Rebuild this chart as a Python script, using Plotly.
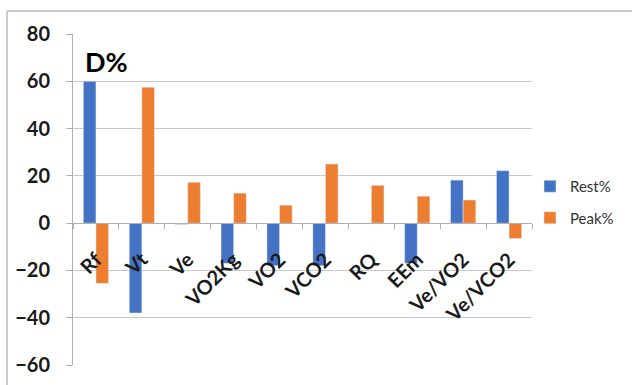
import plotly.graph_objects as go

categories = ["Rf", "Vt", "Ve", "VO2Kg", "VO2", "VCO2", "RQ", "EEm", "Ve/VO2", "Ve/VCO2"]
rest_pct = [60, -38, -0.5, -17, -18, -18, 0, -17, 18.2, 22.2]
peak_pct = [-25.5, 57.5, 17.3, 12.7, 7.6, 25, 16, 11.4, 9.8, -6.5]
y_ticks = [-60, -40, -20, 0, 20, 40, 60, 80]

W, H = 632, 385
L, R, T, B = 73, 632 - 532, 34, 385 - 365
pw, ph = W - L - R, H - T - B
ymin, ymax = -60, 80
zero_pos = (0 - ymin) / (ymax - ymin)

font_fam = "Lato, 'Open Sans', sans-serif"
txt_col = "#1a1a1a"

fig = go.Figure()
fig.add_trace(go.Bar(x=categories, y=rest_pct, name="Rest%", marker_color="#4472C4", legendgroup="a"))
fig.add_trace(go.Bar(x=categories, y=peak_pct, name="Peak%", marker_color="#ED7D31", legendgroup="b"))

fig.update_layout(
    width=W, height=H,
    margin=dict(l=L, r=R, t=T, b=B, autoexpand=False),
    paper_bgcolor="white", plot_bgcolor="white",
    barmode="group", bargap=0.45, bargroupgap=0,
    showlegend=True,
    legend=dict(x=(530 - L) / pw, y=(365 - 170) / ph, xanchor="left", yanchor="top",
                font=dict(family=font_fam, size=15, color="#333333"),
                itemwidth=30, tracegroupgap=9, bgcolor="rgba(0,0,0,0)"),
    font=dict(family=font_fam, color=txt_col),
)

fig.update_yaxes(range=[ymin, ymax], tickvals=y_ticks, showgrid=True, gridcolor="#c8c8c8",
                 gridwidth=1, zeroline=False, showline=True, linecolor="#b0b0b0", linewidth=1,
                 ticks="outside", ticklen=6, tickcolor="#b0b0b0", ticklabelstandoff=12,
                 tickfont=dict(family=font_fam, size=20, color=txt_col, weight="bold"))

fig.update_xaxes(anchor="free", position=zero_pos, showline=True, linecolor="#b0b0b0", linewidth=1,
                 ticks="outside", tickson="boundaries", ticklen=5, tickcolor="#b0b0b0",
                 tickangle=-45, showgrid=False, ticklabelstandoff=16,
                 tickfont=dict(family=font_fam, size=20, color=txt_col, weight="bold"))

fig.add_annotation(text="D%", xref="paper", yref="paper",
                   x=(83 - L) / pw, y=(365 - 61) / ph, xanchor="left", yanchor="middle",
                   showarrow=False, font=dict(family=font_fam, size=27, color="#000000", weight="bold"))

# outer chart frame (top and left edges visible in the picture)
fig.add_shape(type="line", xref="paper", yref="paper",
              x0=(7 - L) / pw, x1=(W + 5 - L) / pw, y0=(365 - 11) / ph, y1=(365 - 11) / ph,
              line=dict(color="#b8b8b8", width=1.5))
fig.add_shape(type="line", xref="paper", yref="paper",
              x0=(7 - L) / pw, x1=(7 - L) / pw, y0=(365 - 11) / ph, y1=(365 - H - 5) / ph,
              line=dict(color="#b8b8b8", width=1.5))

fig.write_html("out.html")
